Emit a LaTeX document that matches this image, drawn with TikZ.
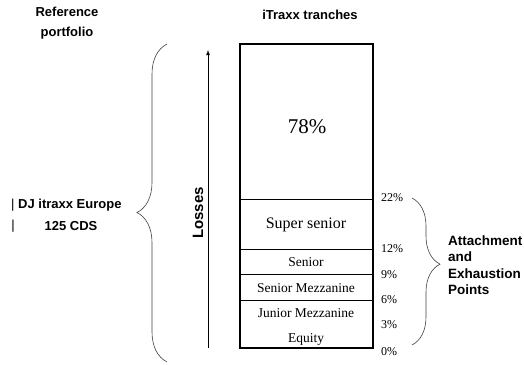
\documentclass[tikz,border=0pt]{standalone}
\usepackage{fontspec}
\setmainfont{Liberation Serif}
\setsansfont{Liberation Sans}
\usepackage{tikz}
\usetikzlibrary{calc}
\usetikzlibrary{arrows}
\usetikzlibrary{positioning}
\usetikzlibrary{decorations.pathreplacing}

\tikzset{
 head/.style={font=\sffamily\bfseries\fontsize{13}{20}\selectfont, align=center, inner sep=0pt},
 tranche/.style={font=\fontsize{13.5}{16}\selectfont, inner sep=0pt},
 pct/.style={font=\fontsize{12}{14}\selectfont, anchor=west, inner sep=0pt},
 lbrace/.style={decorate, decoration={brace, amplitude=30pt, aspect=0.47}, draw=black!75, line width=0.6pt},
 rbrace/.style={decorate, decoration={brace, amplitude=28pt, aspect=0.45}, draw=black!75, line width=0.6pt},
}

\begin{document}
\begin{tikzpicture}[x=1pt, y=-1pt]
 \useasboundingbox (0, 0) rectangle (524, 364);
 % tranche stack
 \draw [line width=1.5pt] (240, 44) rectangle (373, 348);
 \foreach \y in {199, 249, 274, 300}
  \draw [line width=0.8pt] (240, \y) -- (373, \y);
 \node [tranche, font=\fontsize{21}{24}\selectfont] (T78) at (307, 127) {78\%};
 \node [tranche, font=\fontsize{16}{18}\selectfont] (SS) at (306, 225) {Super senior};
 \node [tranche] (S) at (306, 262) {Senior};
 \node [tranche] (SM) at (306, 288) {Senior Mezzanine};
 \node [tranche] (JM) at (306, 313) {Junior Mezzanine};
 \node [tranche] (EQ) at (306, 339) {Equity};
 \foreach \v/\y in {22/198, 12/249, 9/275, 6/300, 3/325, 0/352}
  \node [pct] (P\v) at (381, \y) {\v\%};
 % titles
 \node [head] (REF) at (67, 23) {Reference\\portfolio};
 \node [head] (ITR) at (310, 15) {iTraxx tranches};
 \node [head, anchor=west] (DJ) at (11, 205) {\mdseries|\bfseries\ DJ itraxx Europe};
 \node [head, font=\sffamily\fontsize{13}{20}\selectfont] (BAR) at (13, 226) {|};
 \node [head] (CDS) at (71, 226) {125 CDS};
 \node [head, font=\sffamily\bfseries\fontsize{13.5}{20}\selectfont, align=left, anchor=west] (ATT) at (448, 265) {Attachment\\[-3.5pt]and\\[-3.5pt]Exhaustion\\[-3.5pt]Points};
 % losses arrow
 \coordinate (L0) at (208, 348);
 \coordinate (L1) at (208, 50);
 \draw [-latex, line width=0.8pt] (L0) to (L1);
 \node [head, font=\sffamily\bfseries\fontsize{15}{18}\selectfont, rotate=90] (LOS) at (198, 213) {Losses};
 % braces
 \coordinate (B0) at (167, 362);
 \coordinate (B1) at (167, 44);
 \draw [lbrace] (B0) -- (B1);
 \coordinate (C0) at (412, 198);
 \coordinate (C1) at (412, 345);
 \draw [rbrace] (C0) -- (C1);
\end{tikzpicture}
\end{document}
